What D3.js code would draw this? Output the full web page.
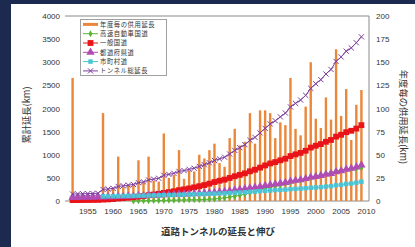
<!DOCTYPE html>
<html>
<head>
<meta charset="utf-8">
<script src="https://cdn.jsdelivr.net/npm/d3@7"></script>
<style>
  body { margin: 0; background: #1b2a4e; }
  text { font-family: "Liberation Sans", Arial, sans-serif; fill: #333; }
  .jp { font-family: "Noto Sans CJK JP", sans-serif; }
</style>
</head>
<body>
<script>
// categories: fiscal years shown on the axis, data run 1952-2009
const axisYears = d3.range(1951, 2011);
const years = d3.range(1952, 2010);
const xTicks = [1955, 1960, 1965, 1970, 1975, 1980, 1985, 1990, 1995, 2000, 2005, 2010];
const leftTicks = [0, 500, 1000, 1500, 2000, 2500, 3000, 3500, 4000];
const rightTicks = [0, 25, 50, 75, 100, 125, 150, 175, 200];

// 年度毎の供用延長 (km, right axis)
const annual = [133, 3, 4, 3, 5, 4, 95, 12, 14, 48,
  15, 17, 18, 44, 20, 48, 22, 21, 73, 25,
  28, 55, 24, 33, 32, 50, 46, 55, 62, 41,
  37, 68, 78, 60, 64, 95, 62, 98, 98, 95,
  68, 85, 82, 133, 78, 71, 102, 150, 89, 79,
  112, 88, 164, 92, 121, 66, 104, 120];

// 高速自動車国道
const expressway = [null, null, null, null, null, null, null, null, null, null,
  null, null, 2, 3, 5, 6, 8, 10, 12, 14,
  16, 19, 22, 26, 25, 28, 32, 38, 45, 55,
  68, 84, 102, 124, 150, 180, 210, 240, 270, 300,
  325, 352, 378, 410, 435, 458, 484, 520, 544, 566,
  592, 614, 648, 668, 690, 700, 710, 720];

// 一般国道
const national = [20, 20, 21, 22, 23, 24, 30, 35, 42, 55,
  62, 72, 82, 95, 108, 125, 140, 155, 175, 192,
  210, 235, 252, 272, 295, 320, 345, 375, 410, 438,
  462, 498, 535, 565, 598, 642, 676, 722, 770, 812,
  842, 880, 915, 972, 1008, 1040, 1086, 1155, 1195, 1230,
  1280, 1320, 1392, 1432, 1488, 1518, 1566, 1640];

// 都道府県道
const prefectural = [75, 76, 77, 78, 80, 82, 86, 88, 90, 95,
  98, 101, 104, 110, 113, 119, 122, 125, 133, 136,
  140, 147, 150, 154, 158, 164, 170, 177, 185, 198,
  206, 220, 236, 250, 265, 282, 296, 314, 332, 350,
  364, 382, 400, 426, 444, 460, 482, 512, 530, 548,
  574, 594, 630, 650, 684, 706, 735, 775];

// 市町村道
const municipal = [null, null, null, null, null, null, 100, 102, 104, 106,
  108, 110, 112, 115, 117, 120, 122, 124, 128, 130,
  132, 136, 138, 140, 143, 146, 150, 154, 158, 162,
  166, 172, 178, 184, 190, 198, 204, 212, 220, 228,
  234, 240, 246, 256, 262, 268, 276, 286, 292, 300,
  312, 322, 340, 350, 368, 378, 395, 418];

// トンネル総延長
const total = [150, 153, 156, 159, 163, 167, 250, 261, 273, 315,
  328, 343, 358, 396, 413, 454, 473, 491, 555, 575,
  598, 640, 658, 684, 708, 748, 784, 826, 876, 911,
  948, 1016, 1094, 1154, 1218, 1313, 1375, 1473, 1571, 1666,
  1734, 1819, 1901, 2034, 2112, 2183, 2285, 2435, 2535, 2624,
  2746, 2844, 3018, 3115, 3240, 3310, 3422, 3550];

const W = 415, H = 247;
const plotL = 65, plotR = 369, plotT = 16, plotB = 201;

const svg = d3.select("body").append("svg").attr("width", W).attr("height", H);
svg.append("rect").attr("width", W).attr("height", H).attr("fill", "#1b2a4e");
svg.append("rect").attr("x", 11).attr("y", 4).attr("width", W - 11).attr("height", H - 4).attr("fill", "#fff");

const x = d3.scaleBand().domain(axisYears).range([plotL, plotR]);
const cx = (yr) => x(yr) + x.bandwidth() / 2;
const yL = d3.scaleLinear().domain([0, 4000]).range([plotB, plotT]);
const yR = d3.scaleLinear().domain([0, 200]).range([plotB, plotT]);

// Plot frame (top, right, bottom)
svg.append("path")
  .attr("d", `M${plotL},${plotT}H${plotR}V${plotB}H${plotL}`)
  .attr("fill", "none").attr("stroke", "#8a8a8a").attr("stroke-width", 1);

// Axes
const gL = svg.append("g").attr("transform", `translate(${plotL},0)`)
  .call(d3.axisLeft(yL).tickValues(leftTicks).tickFormat(d3.format("d")).tickSize(0).tickPadding(5));
const gR = svg.append("g").attr("transform", `translate(${plotR},0)`)
  .call(d3.axisRight(yR).tickValues(rightTicks).tickFormat(d3.format("d")).tickSize(0).tickPadding(7));
const gB = svg.append("g").attr("transform", `translate(0,${plotB})`)
  .call(d3.axisBottom(x).tickValues(xTicks).tickSize(0).tickPadding(7));
[gL, gR, gB].forEach((g) => {
  g.select(".domain").remove();
  g.selectAll("text").attr("font-size", 8).attr("fill", "#333")
    .attr("font-family", "'Liberation Sans', Arial, sans-serif");
});

// Annual bars
svg.append("g").selectAll("rect")
  .data(years.map((yr, i) => ({ yr, v: annual[i] })))
  .join("rect")
  .attr("x", (d) => cx(d.yr) - 1.2)
  .attr("width", 2.4)
  .attr("y", (d) => yR(d.v))
  .attr("height", (d) => plotB - yR(d.v))
  .attr("fill", "#eb873a");

const series = [
  { name: "高速自動車国道", values: expressway, color: "#5bb534", symbol: d3.symbolDiamond, size: 14 },
  { name: "一般国道", values: national, color: "#e8141a", symbol: d3.symbolSquare, size: 34 },
  { name: "都道府県道", values: prefectural, color: "#b04cb4", symbol: d3.symbolTriangle, size: 30 },
  { name: "市町村道", values: municipal, color: "#4cc4d4", symbol: d3.symbolSquare, size: 20 },
  { name: "トンネル総延長", values: total, color: "#7e3f9e", symbol: "x", size: 2.6 },
];

const line = d3.line()
  .defined((d) => d.v != null)
  .x((d) => cx(d.yr))
  .y((d) => yL(d.v));

function marker(g, s, px, py) {
  if (s.symbol === "x") {
    const r = s.size;
    g.append("path")
      .attr("d", `M${px - r},${py - r}L${px + r},${py + r}M${px - r},${py + r}L${px + r},${py - r}`)
      .attr("stroke", s.color).attr("stroke-width", 1).attr("fill", "none");
  } else {
    g.append("path")
      .attr("d", d3.symbol().type(s.symbol).size(s.size)())
      .attr("transform", `translate(${px},${py})`)
      .attr("fill", s.color);
  }
}

series.forEach((s) => {
  const pts = years.map((yr, i) => ({ yr, v: s.values[i] }));
  const g = svg.append("g");
  g.append("path").attr("d", line(pts))
    .attr("fill", "none").attr("stroke", s.color).attr("stroke-width", 1);
  pts.filter((d) => d.v != null).forEach((d) => marker(g, s, cx(d.yr), yL(d.v)));
});

// Legend
const lg = svg.append("g");
lg.append("rect").attr("x", 80.5).attr("y", 19.5).attr("width", 86).attr("height", 56)
  .attr("fill", "#fff").attr("stroke", "#a0a0a0");
const rowY = (i) => 24.4 + i * 9.3;
lg.append("line").attr("x1", 83).attr("x2", 98).attr("y1", rowY(0)).attr("y2", rowY(0))
  .attr("stroke", "#eb873a").attr("stroke-width", 3);
lg.append("text").attr("class", "jp").attr("x", 100).attr("y", rowY(0))
  .attr("dy", "0.35em").attr("font-size", 6.3).attr("letter-spacing", 0.6)
  .text("年度毎の供用延長");
series.forEach((s, i) => {
  const yy = rowY(i + 1);
  lg.append("line").attr("x1", 83).attr("x2", 98).attr("y1", yy).attr("y2", yy)
    .attr("stroke", s.color).attr("stroke-width", 1);
  marker(lg, s, 90.5, yy);
  lg.append("text").attr("class", "jp").attr("x", 100).attr("y", yy)
    .attr("dy", "0.35em").attr("font-size", 6.3).attr("letter-spacing", 0.6)
    .text(s.name);
});

// Titles
svg.append("text").attr("class", "jp")
  .attr("transform", "translate(27,115) rotate(-90)")
  .attr("text-anchor", "middle").attr("dy", "0.35em").attr("font-size", 9.3)
  .text("累計延長(km)");
svg.append("text").attr("class", "jp")
  .attr("transform", "translate(403,117) rotate(90)")
  .attr("text-anchor", "middle").attr("dy", "0.35em").attr("font-size", 9.3)
  .text("年度毎の供用延長(km)");
svg.append("text").attr("class", "jp")
  .attr("x", 218).attr("y", 232).attr("text-anchor", "middle").attr("dy", "0.35em")
  .attr("font-size", 9.5).attr("font-weight", "bold")
  .text("道路トンネルの延長と伸び");
</script>
</body>
</html>
